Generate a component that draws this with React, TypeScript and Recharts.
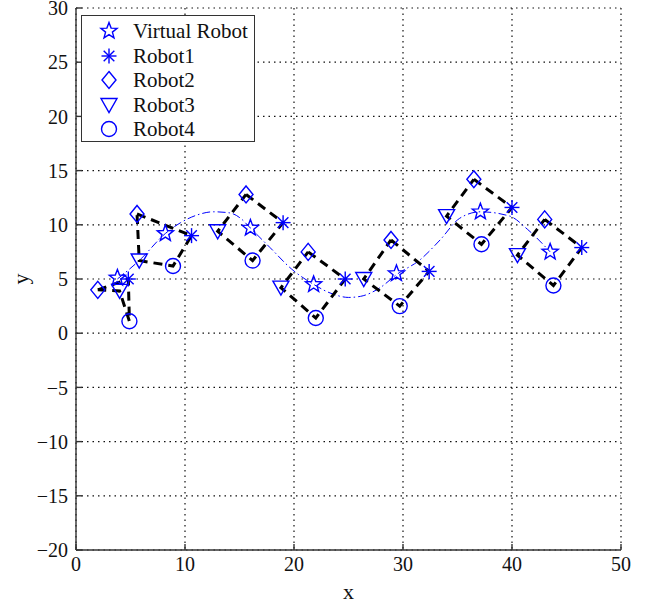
import React from 'react';
import {
  ComposedChart,
  Scatter,
  Line,
  XAxis,
  YAxis,
  CartesianGrid,
} from 'recharts';

// formation snapshots
const virtualRobot = [
  { x: 3.8, y: 5.1 }, { x: 8.2, y: 9.2 }, { x: 16.0, y: 9.7 }, { x: 21.8, y: 4.5 },
  { x: 29.4, y: 5.5 }, { x: 37.1, y: 11.2 }, { x: 43.5, y: 7.5 },
];
const robot1 = [
  { x: 4.8, y: 5.0 }, { x: 10.6, y: 9.0 }, { x: 19.0, y: 10.2 }, { x: 24.7, y: 5.0 },
  { x: 32.4, y: 5.7 }, { x: 40.0, y: 11.6 }, { x: 46.4, y: 7.9 },
];
const robot2 = [
  { x: 2.0, y: 4.0 }, { x: 5.6, y: 11.0 }, { x: 15.6, y: 12.8 }, { x: 21.3, y: 7.5 },
  { x: 28.9, y: 8.6 }, { x: 36.5, y: 14.2 }, { x: 43.0, y: 10.5 },
];
const robot3 = [
  { x: 4.0, y: 3.9 }, { x: 5.8, y: 6.7 }, { x: 13.0, y: 9.4 }, { x: 18.8, y: 4.2 },
  { x: 26.4, y: 5.0 }, { x: 34.0, y: 10.8 }, { x: 40.5, y: 7.2 },
];
const robot4 = [
  { x: 4.9, y: 1.1 }, { x: 8.9, y: 6.2 }, { x: 16.2, y: 6.7 }, { x: 22.0, y: 1.4 },
  { x: 29.7, y: 2.5 }, { x: 37.2, y: 8.2 }, { x: 43.8, y: 4.4 },
];

// virtual robot path (blue dash-dot)
const trajectory = [
  { x: 3.8, y: 5.0 }, { x: 5.9, y: 6.8 }, { x: 8.2, y: 9.2 }, { x: 9.6, y: 10.2 },
  { x: 11.1, y: 10.9 }, { x: 12.6, y: 11.2 }, { x: 14.1, y: 11.1 }, { x: 15.1, y: 10.6 },
  { x: 16.0, y: 9.7 }, { x: 17.8, y: 7.9 }, { x: 19.8, y: 5.9 }, { x: 21.8, y: 4.5 },
  { x: 23.6, y: 3.6 }, { x: 25.0, y: 3.3 }, { x: 26.1, y: 3.4 }, { x: 27.9, y: 4.2 },
  { x: 29.4, y: 5.4 }, { x: 31.6, y: 6.8 }, { x: 33.4, y: 8.6 }, { x: 35.2, y: 10.6 },
  { x: 37.1, y: 11.2 }, { x: 39.8, y: 10.8 }, { x: 41.4, y: 9.6 }, { x: 43.5, y: 7.5 },
];

const xTicks = [0, 10, 20, 30, 40, 50];
const yTicks = [-20, -15, -10, -5, 0, 5, 10, 15, 20, 25, 30];

const BLUE = '#0000ff';
const FONT = '"Liberation Serif", "Times New Roman", serif';

const formations = robot2.map((p, i) => [p, robot1[i], robot4[i], robot3[i], p]);

const StarMark = ({ cx, cy }: any) => {
  const pts: string[] = [];
  for (let k = 0; k < 10; k++) {
    const r = k % 2 === 0 ? 8.5 : 3.6;
    const a = -Math.PI / 2 + (k * Math.PI) / 5;
    pts.push(`${cx + r * Math.cos(a)},${cy + r * Math.sin(a)}`);
  }
  return <polygon points={pts.join(' ')} fill="none" stroke={BLUE} strokeWidth={1.4} />;
};

const AsteriskMark = ({ cx, cy }: any) => {
  const r = 7.5;
  const d = r * 0.707;
  return (
    <g stroke={BLUE} strokeWidth={1.4}>
      <line x1={cx - r} y1={cy} x2={cx + r} y2={cy} />
      <line x1={cx} y1={cy - r} x2={cx} y2={cy + r} />
      <line x1={cx - d} y1={cy - d} x2={cx + d} y2={cy + d} />
      <line x1={cx - d} y1={cy + d} x2={cx + d} y2={cy - d} />
    </g>
  );
};

const DiamondMark = ({ cx, cy }: any) => (
  <polygon
    points={`${cx},${cy - 8.5} ${cx + 7},${cy} ${cx},${cy + 8.5} ${cx - 7},${cy}`}
    fill="none" stroke={BLUE} strokeWidth={1.4}
  />
);

const TriangleMark = ({ cx, cy }: any) => (
  <polygon
    points={`${cx - 8},${cy - 6.5} ${cx + 8},${cy - 6.5} ${cx},${cy + 7.5}`}
    fill="none" stroke={BLUE} strokeWidth={1.4}
  />
);

const CircleMark = ({ cx, cy }: any) => (
  <circle cx={cx} cy={cy} r={7.5} fill="none" stroke={BLUE} strokeWidth={1.4} />
);

const NoMark = () => <g />;

const legendItems = [
  { name: 'Virtual Robot', Mark: StarMark },
  { name: 'Robot1', Mark: AsteriskMark },
  { name: 'Robot2', Mark: DiamondMark },
  { name: 'Robot3', Mark: TriangleMark },
  { name: 'Robot4', Mark: CircleMark },
];

const minus = (v: number) => String(v).replace('-', '\u2212');

export default function App() {
  return (
    <div style={{ position: 'absolute', left: 0, top: 0, width: 648, height: 607, background: '#fff', fontFamily: FONT }}>
      <ComposedChart width={648} height={607} margin={{ top: 8, right: 27, bottom: 0, left: 0 }} style={{ overflow: 'visible' }}>
        <CartesianGrid stroke="#111" strokeWidth={1.2} strokeDasharray="1.5 4" />
        <XAxis
          dataKey="x" type="number" domain={[0, 50]} ticks={xTicks} interval={0}
          tickSize={-6} tickMargin={13} height={57}
          stroke="#333" strokeWidth={1.4}
          tick={{ fill: '#111', fontSize: 20, fontFamily: FONT }}
          tickFormatter={minus}
          label={{ value: 'x', position: 'insideBottom', offset: 8, fill: '#111', fontSize: 22, fontFamily: FONT }}
        />
        <XAxis
          xAxisId="top" orientation="top" type="number" domain={[0, 50]} ticks={xTicks} interval={0}
          tickSize={-6} height={0} tick={false} stroke="#333" strokeWidth={1.4}
        />
        <YAxis
          dataKey="y" type="number" domain={[-20, 30]} ticks={yTicks} interval={0}
          tickSize={-6} tickMargin={14} width={76}
          stroke="#333" strokeWidth={1.4}
          tick={{ fill: '#111', fontSize: 20, fontFamily: FONT }}
          tickFormatter={minus}
          label={(props: any) => {
            const vb = props.viewBox || {};
            const lx = (vb.x ?? 0) + 20;
            const ly = (vb.y ?? 0) + (vb.height ?? 0) / 2;
            return (
              <text x={lx} y={ly} transform={`rotate(-90 ${lx} ${ly})`} textAnchor="middle"
                dominantBaseline="central" fill="#111" fontSize={22} fontFamily={FONT}>y</text>
            );
          }}
        />
        <YAxis
          yAxisId="right" orientation="right" type="number" domain={[-20, 30]} ticks={yTicks} interval={0}
          tickSize={-6} width={0} tick={false} stroke="#333" strokeWidth={1.4}
        />

        {formations.map((f, i) => (
          <Scatter
            key={`f${i}`}
            data={f}
            line={{ stroke: '#000', strokeWidth: 3, strokeDasharray: '9 6' }}
            lineType="joint"
            shape={NoMark}
            isAnimationActive={false}
          />
        ))}

        <Line
          data={trajectory}
          dataKey="y"
          type="monotone"
          stroke={BLUE}
          strokeWidth={1}
          strokeDasharray="8 3 1.5 3"
          dot={false}
          activeDot={false}
          isAnimationActive={false}
        />

        <Scatter data={virtualRobot} shape={StarMark} isAnimationActive={false} />
        <Scatter data={robot1} shape={AsteriskMark} isAnimationActive={false} />
        <Scatter data={robot2} shape={DiamondMark} isAnimationActive={false} />
        <Scatter data={robot3} shape={TriangleMark} isAnimationActive={false} />
        <Scatter data={robot4} shape={CircleMark} isAnimationActive={false} />
      </ComposedChart>

      <div
        style={{
          position: 'absolute', left: 81, top: 15, width: 172, height: 125,
          border: '1.5px solid #333', background: '#fff',
        }}
      >
        {legendItems.map(({ name, Mark }, i) => (
          <div key={name} style={{ position: 'absolute', left: 0, top: 3 + i * 24.5, height: 24, display: 'flex', alignItems: 'center' }}>
            <svg width={48} height={24} style={{ display: 'block' }}>
              <Mark cx={27} cy={12} />
            </svg>
            <span style={{ fontSize: 21, color: '#111', lineHeight: '24px', marginLeft: 3 }}>{name}</span>
          </div>
        ))}
      </div>
    </div>
  );
}
